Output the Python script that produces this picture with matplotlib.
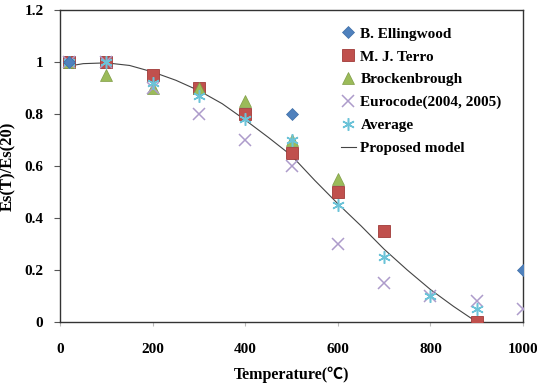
import matplotlib
import matplotlib.pyplot as plt

matplotlib.use("Agg")

# measured points (temperature in C, Es(T)/Es(20))
ellingwood_t = [20, 500, 1000]
ellingwood_v = [1.0, 0.8, 0.2]

terro_t = [20, 100, 200, 300, 400, 500, 600, 700, 900]
terro_v = [1.0, 1.0, 0.95, 0.9, 0.8, 0.65, 0.5, 0.35, 0.0]

brock_t = [20, 100, 200, 300, 400, 500, 600]
brock_v = [1.0, 0.95, 0.9, 0.9, 0.85, 0.7, 0.55]

euro_t = [20, 100, 200, 300, 400, 500, 600, 700, 800, 900, 1000]
euro_v = [1.0, 1.0, 0.9, 0.8, 0.7, 0.6, 0.3, 0.15, 0.1, 0.08, 0.05]

avg_t = [20, 100, 200, 300, 400, 500, 600, 700, 800, 900]
avg_v = [1.0, 1.0, 0.92, 0.87, 0.78, 0.7, 0.45, 0.25, 0.1, 0.05]

# proposed model
model_t = [20, 50, 100, 150, 200, 250, 300, 350, 400, 450, 500,
           550, 600, 650, 700, 750, 800, 850, 900]
model_v = [0.985, 0.994, 0.997, 0.987, 0.962, 0.93, 0.89, 0.84, 0.777, 0.71, 0.64,
           0.545, 0.455, 0.37, 0.28, 0.2, 0.125, 0.06, 0.0]

SERIF = ["Liberation Serif", "Noto Sans CJK SC"]

fig = plt.figure(figsize=(5.37, 3.88), dpi=100)
ax = fig.add_axes([0.112, 0.170, 0.862, 0.804])

ax.plot(model_t, model_v, color="#444444", lw=0.8, label="Proposed model", zorder=2)
ax.plot(terro_t, terro_v, "s", ms=8, color="#C0504D", mec="#A03A38", mew=0.6,
        label="M. J. Terro", zorder=3)
ax.plot(brock_t, brock_v, "^", ms=8.5, color="#9BBB59", mec="#7F9C45", mew=0.5,
        label="Brockenbrough", zorder=4)
ax.plot(euro_t, euro_v, "x", ms=8.5, color="#AD9BCB", mew=1.1,
        label="Eurocode(2004, 2005)", zorder=5)
ax.plot(avg_t, avg_v, marker=(6, 2, 0), ls="none", ms=9, color="#6CC3D8", mew=1.1,
        label="Average", zorder=5)
ax.plot(ellingwood_t, ellingwood_v, "D", ms=6.5, color="#4F81BD", mec="#3E6DA6", mew=0.5,
        label="B. Ellingwood", zorder=6)

ax.set_xlim(0, 1000)
ax.set_ylim(0, 1.2)
ax.set_xticks([0, 200, 400, 600, 800, 1000])
ax.set_yticks([0, 0.2, 0.4, 0.6, 0.8, 1.0, 1.2])
ax.set_yticklabels(["0", "0.2", "0.4", "0.6", "0.8", "1", "1.2"])
for s in ax.spines.values():
    s.set_color("#333333")
    s.set_linewidth(1.0)
ax.tick_params(axis="x", direction="out", length=3, color="#bbbbbb", pad=12)
ax.tick_params(axis="y", direction="out", length=4, color="#555555", pad=8)
for lab in ax.get_xticklabels() + ax.get_yticklabels():
    lab.set_fontfamily(SERIF)
    lab.set_fontweight("bold")
    lab.set_fontsize(11)

ax.set_xlabel("Temperature(℃)", family=SERIF, fontweight="bold", fontsize=11.5, labelpad=8)
ax.set_ylabel("Es(T)/Es(20)", family=SERIF, fontweight="bold", fontsize=12, labelpad=6)

handles, labels = ax.get_legend_handles_labels()
order = ["B. Ellingwood", "M. J. Terro", "Brockenbrough", "Eurocode(2004, 2005)",
         "Average", "Proposed model"]
hmap = dict(zip(labels, handles))
leg = ax.legend([hmap[k] for k in order], order, loc="upper left",
                bbox_to_anchor=(0.576, 0.99), frameon=False, handlelength=1.0,
                handletextpad=0.3, labelspacing=0.6,
                prop={"family": SERIF, "weight": "bold", "size": 11})

fig.savefig("out.png", dpi=100)
